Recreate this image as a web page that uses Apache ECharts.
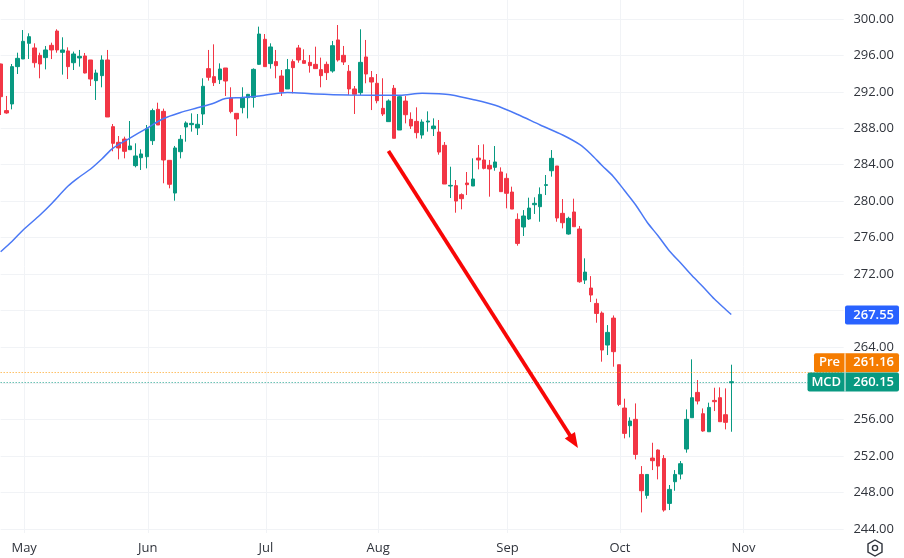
<!DOCTYPE html>
<html>
<head>
<meta charset="utf-8">
<title>MCD</title>
<script src="https://cdn.jsdelivr.net/npm/echarts@6/dist/echarts.min.js"></script>
<style>
html, body { margin: 0; padding: 0; background: #fff; }
#main { width: 904px; height: 558px; }
</style>
</head>
<body>
<div id="main"></div>
<script>
// candles
var opens = [
  295.06, 289.94, 290.67, 294.77, 295.61, 297.33, 296.82, 296.01, 295.76, 297.11,
  298.68, 296.34, 296.49, 295.2, 295.72, 295.94, 295.5, 293.23, 293.78, 295.5,
  288.18, 286.46, 286.82, 285.65, 283.9, 284.77, 284.88, 286.64, 290.08, 289.86,
  284.48, 280.89, 285.43, 288.14, 288.4, 288.03, 289.57, 294.55, 293.67, 293.34,
  294.62, 291.33, 289.64, 290.27, 291.36, 291.4, 295.02, 297.77, 295.1, 295.32,
  293.74, 292.32, 295.32, 296.82, 295.43, 295.24, 295.02, 294.44, 295.02, 294.29,
  297.7, 296.01, 294.26, 292.32, 291.91, 295.83, 293.56, 292.94, 290.19, 288.73,
  292.39, 287.81, 290.99, 288.98, 288.76, 287.26, 288.69, 287.96, 287.59, 286.13,
  281.66, 281.7, 280.71, 281.99, 281.66, 284.73, 284.52, 283.93, 283.71, 283.2,
  282.5, 281, 278, 277.16, 278.04, 279.61, 279.39, 281.73, 283.34, 283.86,
  278.66, 276.39, 278.81, 276.94, 271.33, 270.46, 268.77, 267.71, 264.2, 267.16,
  262.04, 257.28, 255.34, 256.04, 249.99, 247.69, 251.79, 252.67, 251.75, 246.81,
  249.19, 250.03, 252.78, 256.22, 259, 256.66, 254.68, 258.12, 258.42, 256.55,
  260.06
];
var closes = [
  291.47, 289.68, 294.77, 295.68, 297.55, 298.06, 295.2, 295.06, 296.6, 296.6,
  296.6, 296.6, 294.77, 296.16, 295.9, 294.07, 293.41, 294.07, 295.5, 289.24,
  286.35, 285.84, 285.47, 286.06, 284.96, 285.18, 287.96, 289.94, 288.36, 284.52,
  281.85, 285.84, 286.79, 288.58, 288.54, 288.44, 292.61, 293.6, 293.01, 294.51,
  293.19, 289.83, 289.02, 291.36, 291.73, 294.47, 298.35, 294.77, 296.93, 294.88,
  292.02, 294.44, 294.66, 295.5, 295.13, 294.88, 294.55, 293.78, 294.11, 297.07,
  295.5, 295.28, 292.32, 291.73, 295.24, 293.96, 293.08, 291.03, 289.57, 291,
  286.9, 291.47, 289.49, 288.25, 287.52, 288.69, 288.8, 288.25, 285.39, 281.88,
  281.73, 280.01, 280.27, 281.81, 282.43, 284.52, 283.6, 283.53, 284.3, 281.04,
  280.86, 279.13, 275.36, 278.37, 279.24, 279.76, 280.74, 281.81, 284.7, 278.15,
  277.63, 278.11, 277.19, 271.15, 272.21, 269.69, 267.67, 263.65, 265.59, 263.47,
  257.68, 254.5, 255.86, 252.19, 248.2, 249.99, 251.5, 250.91, 246.08, 248.35,
  249.99, 251.17, 256.04, 258.42, 258.05, 254.76, 257.35, 257.98, 255.78, 255.71,
  260.17
];
var lows = [
  289.46, 289.6, 290.08, 293.96, 295.6, 295.61, 294.66, 293.49, 294.47, 295.6,
  296.3, 293.89, 293.41, 294.4, 294.77, 294.03, 292.64, 291.11, 292.5, 289.24,
  285.47, 284.59, 284.7, 285.65, 283.71, 283.42, 283.6, 286.17, 288.36, 281.96,
  281.41, 280.05, 284.7, 286.53, 287.63, 287.26, 288.36, 293.23, 292.64, 292.86,
  291.55, 289.64, 287.15, 289.64, 289.09, 290.27, 294.95, 294.77, 294.55, 293.49,
  291.55, 292.32, 291.84, 295.2, 295.13, 294.11, 294.55, 292.5, 293.3, 294.11,
  295.32, 294.95, 291.66, 289.57, 291.66, 292.94, 290, 290.74, 289.35, 288.73,
  286.9, 287.81, 288.54, 287.92, 286.89, 286.86, 287.63, 287.15, 285.1, 281.88,
  280.34, 278.73, 279.1, 280.67, 281.66, 283.49, 283.49, 280.49, 283.34, 281.04,
  279.21, 279.13, 275.11, 276.17, 277.93, 278.59, 277.74, 280.67, 282.69, 277.74,
  277.01, 276.32, 277.19, 271.04, 270.9, 268.92, 266.65, 262.37, 263.1, 261.82,
  257.5, 253.95, 254.06, 251.64, 245.82, 247.33, 250.47, 249.45, 245.9, 246.08,
  248.2, 249.45, 252.38, 256.22, 257.68, 254.68, 254.68, 256.95, 255.78, 254.94,
  254.68
];
var highs = [
  295.1, 291.55, 295.06, 296.3, 298.79, 298.43, 297.33, 296.3, 297.04, 297.4,
  298.87, 297.99, 296.89, 296.42, 296.6, 296.27, 295.5, 294.44, 296.01, 296.6,
  288.47, 287.15, 287.08, 288.8, 286.35, 285.69, 288.36, 290.16, 290.81, 290.16,
  284.48, 286.06, 287.26, 288.76, 289.64, 289.57, 293.49, 296.6, 297.22, 295.13,
  294.62, 292.5, 289.64, 292.5, 291.77, 294.58, 299.16, 298.35, 297.33, 296.6,
  294.4, 295.61, 295.57, 297.15, 296.67, 296.05, 296.96, 295.76, 295.32, 297.59,
  299.34, 297.04, 294.95, 292.64, 298.87, 297.7, 294.29, 293.96, 293.49, 291.18,
  292.75, 291.65, 291.54, 289.75, 290.3, 288.98, 289.86, 289.09, 288.91, 286.49,
  283.78, 282.32, 280.85, 283.2, 284.7, 286.16, 286.24, 284.52, 286.05, 283.71,
  283.05, 281.59, 278.66, 279.02, 280.38, 280.42, 281.51, 282.87, 285.61, 283.86,
  280.23, 278.29, 280.27, 277.27, 273.72, 271.77, 269.29, 267.89, 266.39, 267.45,
  262.04, 258.31, 256.26, 257.79, 250.91, 249.99, 253.47, 252.74, 252.12, 248.83,
  250.47, 251.46, 257.13, 262.63, 260.36, 257.24, 257.87, 259.51, 259.55, 259.44,
  262.04
];

// moving average, read at these candle positions
var maSlots = [0, 2, 4, 7, 9, 12, 14, 16, 18, 20, 23, 26, 29, 32, 35, 38, 40, 43, 46, 51, 56, 62, 71, 75, 78, 80, 84, 88, 92, 96, 100, 103, 105, 107, 109, 111, 113, 115, 117, 119, 121, 123, 125, 127, 129, 130];
var maValues = [274.45, 275.57, 276.83, 278.48, 279.69, 281.66, 282.65, 283.53, 284.63, 285.83, 286.93, 288, 289.07, 289.73, 290.25, 290.78, 291.27, 291.38, 291.55, 291.93, 291.76, 291.65, 291.62, 291.84, 291.79, 291.68, 291.16, 290.52, 289.51, 288.36, 287.26, 286.22, 285.18, 283.91, 282.71, 281.17, 279.58, 277.71, 276.17, 274.53, 273.21, 271.83, 270.57, 269.25, 268.1, 267.55];

var monthSlots = [4, 26, 47, 67, 90, 110, 132];
var monthLabels = ['May', 'Jun', 'Jul', 'Aug', 'Sep', 'Oct', 'Nov'];
var priceRange = [244, 300];
var hiddenPriceLabels = [260, 268]; // sit under the badges

var maLast = 267.55;
var prePrice = 261.16;
var lastPrice = 260.15;

var arrowFrom = [69, 285.5];
var arrowTo = [102, 253.6];

var upColor = '#089981';
var downColor = '#f23645';
var gridColor = '#f1f3f6';
var textColor = '#30343c';
var fontName = '"Open Sans", sans-serif';

var slotCount = 151;
var slotWidth = 5.62;
var paneLeft = 0.67;

var categories = [];
for (var i = 0; i < slotCount; i++) {
  categories.push(String(i));
}

var candles = [];
for (var i = 0; i < opens.length; i++) {
  candles.push([opens[i], closes[i], lows[i], highs[i]]);
}

var maData = [];
for (var i = 0; i < maSlots.length; i++) {
  maData.push([String(maSlots[i]), maValues[i]]);
}

function isMonthSlot(index) {
  return monthSlots.indexOf(index) >= 0;
}

var myChart = echarts.init(document.getElementById('main'), null, { renderer: 'canvas' });

var paneWidth = (slotCount - 1) * slotWidth;

var option = {
  animation: false,
  backgroundColor: '#fff',
  grid: [
    // prices
    { left: paneLeft, top: 19, width: paneWidth, height: 510 },
    // month gridlines and labels, they run a bit past the price range
    { left: paneLeft + 1, top: 0, width: paneWidth, height: 533 }
  ],
  xAxis: [
    {
      gridIndex: 0,
      type: 'category',
      boundaryGap: false,
      data: categories,
      show: false
    },
    {
      gridIndex: 1,
      type: 'category',
      boundaryGap: false,
      data: categories,
      axisLine: { show: false },
      axisTick: { show: false },
      splitLine: {
        show: true,
        interval: isMonthSlot,
        lineStyle: { color: gridColor, width: 1 }
      },
      axisLabel: {
        interval: isMonthSlot,
        margin: 9,
        color: textColor,
        fontFamily: fontName,
        fontSize: 13,
        formatter: function (value) {
          return monthLabels[monthSlots.indexOf(Number(value))];
        }
      }
    }
  ],
  yAxis: [
    {
      gridIndex: 0,
      type: 'value',
      position: 'right',
      min: priceRange[0],
      max: priceRange[1],
      interval: 4,
      axisLine: { show: false },
      axisTick: { show: false },
      splitLine: { show: true, lineStyle: { color: gridColor, width: 1 } },
      axisLabel: {
        align: 'right',
        margin: 50.3,
        color: textColor,
        fontFamily: fontName,
        fontSize: 13,
        showMinLabel: true,
        showMaxLabel: true,
        formatter: function (v) {
          return hiddenPriceLabels.indexOf(v) >= 0 ? '' : v.toFixed(2);
        }
      }
    },
    { gridIndex: 1, type: 'value', show: false }
  ],
  series: [
    {
      type: 'candlestick',
      xAxisIndex: 0,
      yAxisIndex: 0,
      data: candles,
      barWidth: 4,
      clip: false,
      z: 3,
      itemStyle: {
        color: upColor,
        color0: downColor,
        borderColor: upColor,
        borderColor0: downColor,
        borderWidth: 1
      },
      markLine: {
        silent: true,
        symbol: 'none',
        label: { show: false },
        data: [
          { yAxis: prePrice, lineStyle: { color: '#ff9800', type: [1, 2], width: 1, opacity: 0.9 } },
          { yAxis: lastPrice, lineStyle: { color: upColor, type: [1, 2], width: 1, opacity: 0.9 } }
        ]
      }
    },
    {
      type: 'line',
      xAxisIndex: 0,
      yAxisIndex: 0,
      data: maData,
      smooth: 0.3,
      showSymbol: false,
      clip: false,
      z: 4,
      lineStyle: { color: '#4a78f5', width: 1.5 },
      markLine: {
        silent: true,
        symbol: ['none', 'triangle'],
        symbolSize: [12, 15],
        label: { show: false },
        lineStyle: { color: '#f80606', type: 'solid', width: 3.8 },
        data: [[
          { coord: [String(arrowFrom[0]), arrowFrom[1]] },
          { coord: [String(arrowTo[0]), arrowTo[1]] }
        ]]
      }
    }
  ]
};

myChart.setOption(option);

// price badges on the scale, placed from the axis
function badge(price, shift, fill, name, nameLeft) {
  var y = myChart.convertToPixel({ yAxisIndex: 0 }, price) + shift;
  var boxLeft = nameLeft === null ? 845 : nameLeft;
  var items = [];
  items.push({
    type: 'rect', z: 20,
    shape: { x: boxLeft, y: y - 9.5, width: 899 - boxLeft, height: 19, r: 2 },
    style: { fill: fill }
  });
  if (name) {
    items.push({
      type: 'rect', z: 21,
      shape: { x: 844.5, y: y - 9.5, width: 1, height: 19 },
      style: { fill: '#fff' }
    });
    items.push({
      type: 'text', z: 22, x: (nameLeft + 845) / 2, y: y,
      style: { text: name, fill: '#fff', font: '600 13px ' + fontName, align: 'center', verticalAlign: 'middle' }
    });
  }
  items.push({
    type: 'text', z: 22, x: 894, y: y,
    style: { text: price.toFixed(2), fill: '#fff', font: '600 13px ' + fontName, align: 'right', verticalAlign: 'middle' }
  });
  return items;
}

var elements = []
  .concat(badge(maLast, 0.5, '#2962ff', null, null))
  .concat(badge(prePrice, -10, '#f57c00', 'Pre', 814))
  .concat(badge(lastPrice, 0, '#089981', 'MCD', 807.5));

// settings button, bottom right
elements.push({
  type: 'polygon', z: 20,
  shape: { points: [[875, 540], [882, 544], [882, 552], [875, 556], [868, 552], [868, 544]] },
  style: { fill: '#fff', stroke: '#30343c', lineWidth: 1.4 }
});
elements.push({
  type: 'circle', z: 21,
  shape: { cx: 875, cy: 548, r: 2.6 },
  style: { fill: '#fff', stroke: '#30343c', lineWidth: 1.4 }
});

myChart.setOption({ graphic: { elements: elements } });
</script>
</body>
</html>
